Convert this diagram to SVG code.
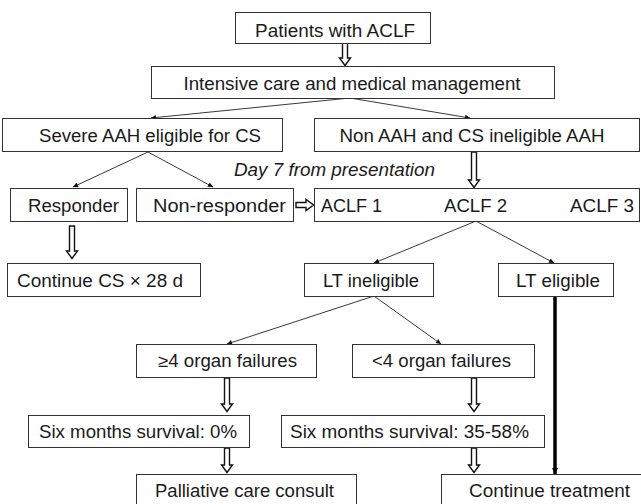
<svg xmlns="http://www.w3.org/2000/svg" width="641" height="504" viewBox="0 0 641 504">
<defs>
<style>
.box{fill:#fff;stroke:#333;stroke-width:1}
.t{font-family:"Liberation Sans",Arial,Helvetica,sans-serif;font-size:17.5px;fill:#1a1a1a;text-anchor:middle}
.tl{text-anchor:start}
.ln{stroke:#222;stroke-width:0.9;fill:none;marker-end:url(#ah)}
.ha{fill:#fff;stroke:#111;stroke-width:1.4;stroke-linejoin:miter}
.thick{stroke:#000;stroke-width:3.5;fill:none;marker-end:url(#ahb)}
</style>
<marker id="ah" viewBox="0 0 10 10" refX="10" refY="5" markerWidth="7" markerHeight="5" markerUnits="userSpaceOnUse" orient="auto">
<path d="M0,0 L10,5 L0,10 z" fill="#111"/>
</marker>
<marker id="ahb" viewBox="0 0 10 10" refX="10" refY="5" markerWidth="6" markerHeight="8" markerUnits="userSpaceOnUse" orient="auto">
<path d="M0,0 L10,5 L0,10 z" fill="#000"/>
</marker>
</defs>
<rect width="641" height="504" fill="#fff"/>

<g id="connectors">
<line class="ln" x1="350" y1="98" x2="151" y2="118"/>
<line class="ln" x1="350" y1="98" x2="470" y2="118"/>
<line class="ln" x1="148" y1="152" x2="73" y2="187"/>
<line class="ln" x1="148" y1="152" x2="213" y2="187"/>
<line class="ln" x1="476" y1="221" x2="374" y2="263"/>
<line class="ln" x1="476" y1="221" x2="554" y2="263"/>
<line class="ln" x1="374" y1="296" x2="227" y2="344"/>
<line class="ln" x1="374" y1="296" x2="441" y2="344"/>
<line class="thick" x1="555" y1="296" x2="555" y2="474"/>
<polygon class="ha" points="342.5,43 347.5,43 347.5,58 350.5,58 345,65.5 339.5,58 342.5,58"/>
<polygon class="ha" points="471.5,152 476.5,152 476.5,180 479.5,180 474,187.5 468.5,180 471.5,180"/>
<polygon class="ha" points="69.5,226 74.5,226 74.5,251 77.5,251 72,258.5 66.5,251 69.5,251"/>
<polygon class="ha" points="296,202.5 306,202.5 306,199.5 313.5,205 306,210.5 306,207.5 296,207.5"/>
<polygon class="ha" points="224.5,378 229.5,378 229.5,404 232.5,404 227,411.5 221.5,404 224.5,404"/>
<polygon class="ha" points="471.5,378 476.5,378 476.5,404 479.5,404 474,411.5 468.5,404 471.5,404"/>
<polygon class="ha" points="224.5,448 229.5,448 229.5,465 232.5,465 227,472.5 221.5,465 224.5,465"/>
<polygon class="ha" points="471.5,448 476.5,448 476.5,465 479.5,465 474,472.5 468.5,465 471.5,465"/>
</g>

<g id="n-patients"><rect class="box" x="235.5" y="12.5" width="195" height="31"/><text class="t" x="335" y="37" textLength="160" lengthAdjust="spacingAndGlyphs">Patients with ACLF</text></g>
<g id="n-icu"><rect class="box" x="151.5" y="66.5" width="403" height="32"/><text class="t" x="352" y="90" textLength="337" lengthAdjust="spacingAndGlyphs">Intensive care and medical management</text></g>
<g id="n-severe"><rect class="box" x="2.5" y="118.5" width="280" height="33"/><text class="t" x="150" y="142" textLength="222" lengthAdjust="spacingAndGlyphs">Severe AAH eligible for CS</text></g>
<g id="n-nonaah"><rect class="box" x="314.5" y="118.5" width="325" height="33"/><text class="t" x="472" y="142" textLength="265" lengthAdjust="spacingAndGlyphs">Non AAH and CS ineligible AAH</text></g>
<g id="n-day7"><text class="t" x="334.5" y="176" font-style="italic" textLength="201" lengthAdjust="spacingAndGlyphs">Day 7 from presentation</text></g>
<g id="n-responder"><rect class="box" x="10.5" y="188.5" width="117" height="33"/><text class="t" x="73.5" y="212" textLength="91" lengthAdjust="spacingAndGlyphs">Responder</text></g>
<g id="n-nonresponder"><rect class="box" x="136.5" y="188.5" width="157" height="33"/><text class="t" x="219.5" y="212" textLength="133" lengthAdjust="spacingAndGlyphs">Non-responder</text></g>
<g id="n-aclf"><rect class="box" x="314.5" y="188.5" width="325" height="33"/>
<text class="t tl" x="321" y="212" textLength="61" lengthAdjust="spacingAndGlyphs">ACLF 1</text>
<text class="t tl" x="444" y="212" textLength="63" lengthAdjust="spacingAndGlyphs">ACLF 2</text>
<text class="t tl" x="570" y="212" textLength="64" lengthAdjust="spacingAndGlyphs">ACLF 3</text></g>
<g id="n-continuecs"><rect class="box" x="7.5" y="263.5" width="193" height="33"/><text class="t" x="100" y="287" textLength="166" lengthAdjust="spacingAndGlyphs">Continue CS × 28 d</text></g>
<g id="n-ltinel"><rect class="box" x="304.5" y="263.5" width="129" height="33"/><text class="t" x="371" y="287" textLength="96" lengthAdjust="spacingAndGlyphs">LT ineligible</text></g>
<g id="n-ltel"><rect class="box" x="498.5" y="263.5" width="115" height="33"/><text class="t" x="558" y="287" textLength="84" lengthAdjust="spacingAndGlyphs">LT eligible</text></g>
<g id="n-ge4"><rect class="box" x="136.5" y="344.5" width="180" height="33"/><text class="t" x="227.5" y="367" textLength="139" lengthAdjust="spacingAndGlyphs">≥4 organ failures</text></g>
<g id="n-lt4"><rect class="box" x="352.5" y="344.5" width="182" height="33"/><text class="t" x="441.5" y="367" textLength="139" lengthAdjust="spacingAndGlyphs">&lt;4 organ failures</text></g>
<g id="n-surv0"><rect class="box" x="28.5" y="415.5" width="221" height="32"/><text class="t" x="138" y="438" textLength="198" lengthAdjust="spacingAndGlyphs">Six months survival: 0%</text></g>
<g id="n-surv35"><rect class="box" x="281.5" y="415.5" width="263" height="32"/><text class="t" x="409.5" y="438" textLength="239" lengthAdjust="spacingAndGlyphs">Six months survival: 35-58%</text></g>
<g id="n-palliative"><rect class="box" x="136.5" y="474.5" width="220" height="32"/><text class="t" x="244.5" y="497" textLength="179" lengthAdjust="spacingAndGlyphs">Palliative care consult</text></g>
<g id="n-continuetx"><rect class="box" x="441.5" y="474.5" width="202" height="32"/><text class="t" x="549.5" y="497" textLength="161" lengthAdjust="spacingAndGlyphs">Continue treatment</text></g>
</svg>
